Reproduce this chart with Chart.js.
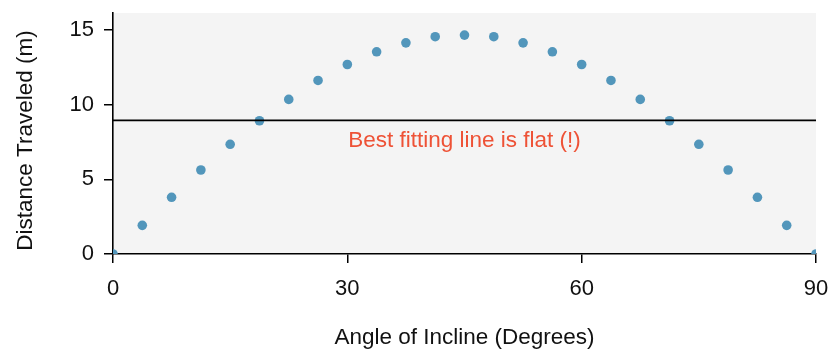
<!DOCTYPE html>
<html>
<head>
<meta charset="utf-8">
<script src="https://cdn.jsdelivr.net/npm/chart.js@4/dist/chart.umd.min.js"></script>
<style>
  html, body { margin: 0; padding: 0; background: #ffffff; }
  #wrap { width: 830px; height: 352px; position: relative; }
</style>
</head>
<body>
<div id="wrap"><canvas id="c"></canvas></div>
<script>
// ---- data ----
const angles = [0, 3.75, 7.5, 11.25, 15, 18.75, 22.5, 26.25, 30, 33.75, 37.5, 41.25, 45,
                48.75, 52.5, 56.25, 60, 63.75, 67.5, 71.25, 75, 78.75, 82.5, 86.25, 90];
const distances = [0, 1.92, 3.80, 5.63, 7.35, 8.93, 10.36, 11.63, 12.70, 13.55, 14.15, 14.56, 14.67,
                   14.56, 14.15, 13.55, 12.70, 11.63, 10.36, 8.93, 7.35, 5.63, 3.80, 1.92, 0];
const bestFitY = 8.95;
const xTicks = [0, 30, 60, 90];
const yTicks = [0, 5, 10, 15];
const xTitle = 'Angle of Incline (Degrees)';
const yTitle = 'Distance Traveled (m)';
const noteText = 'Best fitting line is flat (!)';
const noteX = 45;
const noteY = 7.6;

const FONT = '"Liberation Sans", Arial, Helvetica, sans-serif';
const FS_TICK = 22;
const FS_TEXT = 22.5;

const points = angles.map((a, i) => ({ x: a, y: distances[i] }));

const bgPlugin = {
  id: 'plotBg',
  beforeDraw(chart) {
    const { ctx, chartArea: a } = chart;
    ctx.save();
    ctx.fillStyle = '#f4f4f4';
    ctx.fillRect(a.left, a.top, a.right - a.left, a.bottom - a.top);
    ctx.restore();
  }
};

const textPlugin = {
  id: 'texts',
  afterDatasetsDraw(chart) {
    const { ctx, scales, chartArea: a } = chart;
    ctx.save();
    ctx.font = FS_TEXT + 'px ' + FONT;
    ctx.fillStyle = '#ee5236';
    ctx.textAlign = 'center';
    ctx.textBaseline = 'middle';
    ctx.fillText(noteText, scales.x.getPixelForValue(noteX), scales.y.getPixelForValue(noteY));
    ctx.restore();

    // y-axis title
    ctx.save();
    ctx.font = FS_TEXT + 'px ' + FONT;
    ctx.fillStyle = '#111';
    ctx.textAlign = 'center';
    ctx.textBaseline = 'middle';
    ctx.translate(26, (a.top + a.bottom) / 2 + 7);
    ctx.rotate(-Math.PI / 2);
    ctx.fillText(yTitle, 0, 0);
    ctx.restore();
  }
};

function zeroPad(s) { s.paddingLeft = 0; s.paddingRight = 0; s.paddingTop = 0; s.paddingBottom = 0; }

new Chart(document.getElementById('c'), {
  type: 'scatter',
  data: {
    datasets: [
      {
        type: 'line',
        data: [{ x: angles[0], y: bestFitY }, { x: angles[angles.length - 1], y: bestFitY }],
        borderColor: '#000000',
        borderWidth: 1.8,
        pointRadius: 0,
        fill: false
      },
      {
        data: points,
        backgroundColor: '#5296bb',
        borderWidth: 0,
        pointRadius: 4.8,
        pointHoverRadius: 4.8
      }
    ]
  },
  options: {
    responsive: true,
    maintainAspectRatio: false,
    animation: false,
    events: [],
    layout: { padding: { left: 0, right: 14, top: 13, bottom: 0 } },
    plugins: {
      legend: { display: false },
      tooltip: { enabled: false }
    },
    scales: {
      x: {
        type: 'linear',
        min: 0,
        max: 90,
        afterBuildTicks(s) { s.ticks = xTicks.map(v => ({ value: v })); },
        afterFit(s) { s.height = 98; zeroPad(s); },
        grid: { display: true, drawOnChartArea: false, color: '#000', lineWidth: 1.5, tickLength: 9 },
        border: { display: true, color: '#000', width: 1.6 },
        ticks: { color: '#111', padding: 13, maxRotation: 0, font: { family: FONT, size: FS_TICK } },
        title: { display: true, text: xTitle, color: '#111', padding: { top: 0, bottom: 1 }, font: { family: FONT, size: FS_TEXT } }
      },
      y: {
        type: 'linear',
        min: 0,
        max: 16.15,
        afterBuildTicks(s) { s.ticks = yTicks.map(v => ({ value: v })); },
        afterFit(s) { s.width = 113; zeroPad(s); },
        grid: { display: true, drawOnChartArea: false, color: '#000', lineWidth: 1.5, tickLength: 9 },
        border: { display: true, color: '#000', width: 1.6 },
        ticks: { color: '#111', padding: 10, font: { family: FONT, size: FS_TICK } },
        title: { display: false }
      }
    }
  },
  plugins: [bgPlugin, textPlugin]
});
</script>
</body>
</html>
